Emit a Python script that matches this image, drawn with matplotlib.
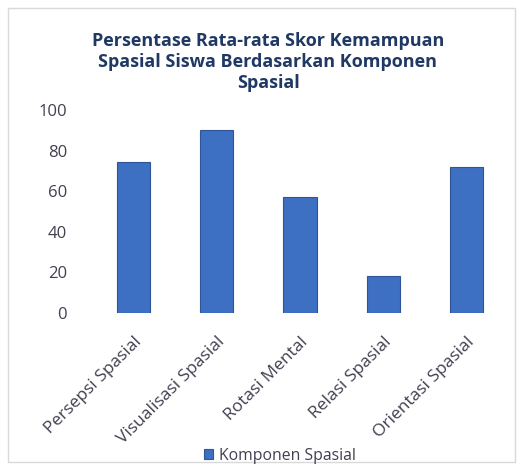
import matplotlib
matplotlib.use("Agg")
import matplotlib.pyplot as plt
from matplotlib.patches import Rectangle

categories = ["Persepsi Spasial", "Visualisasi Spasial", "Rotasi Mental",
              "Relasi Spasial", "Orientasi Spasial"]
values = [74.5, 90, 57, 18, 72]
yticks = [0, 20, 40, 60, 80, 100]
series_name = "Komponen Spasial"
title = "Persentase Rata-rata Skor Kemampuan\nSpasial Siswa Berdasarkan Komponen\nSpasial"

plt.rcParams['font.family'] = ['Open Sans', 'DejaVu Sans']
text_color = '#404050'

W, H = 523, 474
fig = plt.figure(figsize=(W/100, H/100), dpi=100)
fig.patch.set_facecolor('white')

# chart border
fig.patches.append(Rectangle((8/W, 1-462/H), (515-8)/W, (462-8)/H,
                             transform=fig.transFigure, fill=False,
                             edgecolor='#d9d9d9', linewidth=1))

left, right = 92/W, 508/W
bottom, top = 1-313/H, 1-110/H
ax = fig.add_axes([left, bottom, right-left, top-bottom])
x = range(len(categories))
bars = ax.bar(x, values, width=0.4, color='#3d6fc2', edgecolor='#2f5597',
              linewidth=0.8, label=series_name)
ax.set_xlim(-0.5, len(categories)-0.5)
ax.set_ylim(0, 100)
ax.set_yticks(yticks)
ax.set_yticklabels([str(v) for v in yticks], fontsize=12, color=text_color)
ax.set_xticks(list(x))
ax.set_xticklabels(categories, rotation=45, ha='right', rotation_mode='anchor',
                   fontsize=12.5, color=text_color)
ax.tick_params(axis='x', length=0, pad=15)
ax.tick_params(axis='y', length=0, pad=18)
for s in ax.spines.values():
    s.set_visible(False)

fig.text(268/W, 1-62/H, title, ha='center', va='center', fontsize=13,
         fontweight='bold', color='#1f3864', linespacing=1.25)

leg = fig.legend(handles=[bars], labels=[series_name], loc='center',
                 bbox_to_anchor=(280/W, 1-456/H), frameon=False,
                 fontsize=11.3, handlelength=0.6, handleheight=0.6,
                 handletextpad=0.4)
for t in leg.get_texts():
    t.set_color(text_color)

fig.savefig("out.png", dpi=100, facecolor='white')
